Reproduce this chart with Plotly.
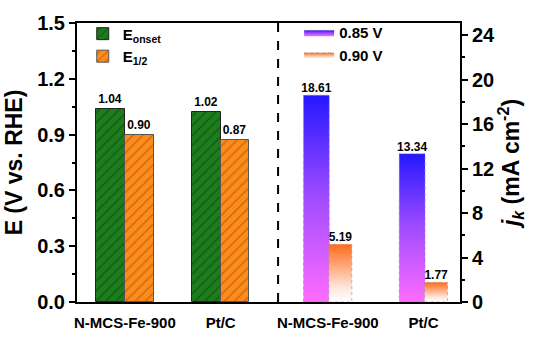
import plotly.graph_objects as go

# ---- data ----
groups = ["N-MCS-Fe-900", "Pt/C"]
e_onset = [1.04, 1.02]
e_half = [0.90, 0.87]
jk_085 = [18.61, 13.34]
jk_090 = [5.19, 1.77]

left_pos = [0.5, 1.5]
right_pos = [2.5, 3.5]
tick_pos = [0.5, 1.5, 2.62, 3.62]
tick_txt = groups + groups

FONT = "Liberation Sans, Arial, sans-serif"

fig = go.Figure()

lbl_font = dict(size=12, color="black", family=FONT, weight="bold")

# left patterned bars
fig.add_trace(go.Bar(
    x=[p - 0.15 for p in left_pos], y=e_onset, width=0.3,
    name="E<sub>onset</sub>", legend="legend",
    marker=dict(color="#1a7a1a", line=dict(color="#222", width=1),
                pattern=dict(shape="/", fgcolor="#0a300a", bgcolor="#1c7d1c", size=7, solidity=0.18)),
    text=[f"{v:.2f}" for v in e_onset], textposition="outside",
    textfont=lbl_font, cliponaxis=False, hoverinfo="skip",
))
fig.add_trace(go.Bar(
    x=[p + 0.15 for p in left_pos], y=e_half, width=0.3,
    name="E<sub>1/2</sub>", legend="legend",
    marker=dict(color="#ff8c1a", line=dict(color="#555", width=1),
                pattern=dict(shape="/", fgcolor="#7a4010", bgcolor="#ff8c1a", size=7, solidity=0.18)),
    text=[f"{v:.2f}" for v in e_half], textposition="outside",
    textfont=lbl_font, cliponaxis=False, hoverinfo="skip",
))

# right gradient bars (jk)
def grad_bar(c, w, v, cs, name, show):
    return go.Scatter(
        x=[c - w / 2, c + w / 2, c + w / 2, c - w / 2, c - w / 2],
        y=[0, 0, v, v, 0], yaxis="y2", mode="lines", fill="toself",
        fillgradient=dict(type="vertical", colorscale=cs),
        line=dict(color="rgba(150,150,150,0.8)", width=0.8, dash="dot"),
        name=name, legend="legend2", showlegend=show, legendgroup=name,
        hoverinfo="skip",
    )

purple_cs = [[0, "#ff6cff"], [0.5, "#a24cff"], [1, "#2418ff"]]
orange_cs = [[0, "#ffffff"], [0.25, "#fde6dc"], [1, "#ff6a18"]]
for i, c in enumerate(right_pos):
    fig.add_trace(grad_bar(c, 0.27, jk_085[i], purple_cs, "0.85 V", i == 0))
for i, c in enumerate(right_pos):
    fig.add_trace(grad_bar(c + 0.25, 0.24, jk_090[i], orange_cs, "0.90 V", i == 0))

fig.add_trace(go.Scatter(
    x=right_pos + [c + 0.25 for c in right_pos], y=jk_085 + jk_090, yaxis="y2",
    mode="text", text=[f"{v:.2f}" for v in jk_085 + jk_090], textposition="top center",
    textfont=lbl_font, showlegend=False, hoverinfo="skip", cliponaxis=False,
))

fig.add_shape(type="line", xref="x", yref="paper", x0=2.1, x1=2.1, y0=0, y1=1,
              line=dict(color="black", width=2, dash="dash"))

tick_font = dict(size=20, color="black", family=FONT, weight="bold")
title_font = dict(size=23, color="black", family=FONT, weight="bold")
leg_font = dict(size=15, color="black", family=FONT, weight="bold")
fig.update_layout(
    width=541, height=345,
    margin=dict(l=77, r=81, t=19, b=43),
    plot_bgcolor="white", paper_bgcolor="white",
    font=dict(family=FONT, color="black"),
    bargap=0,
    xaxis=dict(range=[0, 4], tickvals=tick_pos, ticktext=tick_txt, ticks="",
               tickfont=dict(size=15, color="black", family=FONT, weight="bold"),
               ticklabelstandoff=6,
               showline=True, linecolor="black", linewidth=2, mirror=True,
               showgrid=False, zeroline=False),
    yaxis=dict(range=[0, 1.5], dtick=0.3, tickformat=".1f", ticks="outside", ticklen=6,
               tickwidth=2, tickcolor="black",
               minor=dict(dtick=0.15, ticks="outside", ticklen=3, tickwidth=1.5, tickcolor="black"),
               tickfont=tick_font, showline=True, linecolor="black", linewidth=2,
               showgrid=False, zeroline=False,
               title=dict(text="E (V vs. RHE)", font=title_font, standoff=8)),
    yaxis2=dict(range=[0, 25.1], overlaying="y", side="right", dtick=4, ticks="outside",
                ticklen=6, tickwidth=2, tickcolor="black",
                minor=dict(dtick=2, ticks="outside", ticklen=3, tickwidth=1.5, tickcolor="black"),
                tickfont=tick_font, showline=True, linecolor="black", linewidth=2,
                showgrid=False, zeroline=False,
                title=dict(text="<i>j<sub>k</sub></i> (mA cm<sup>-2</sup>)", font=title_font, standoff=8)),
    legend=dict(x=0.015, y=1.02, xanchor="left", yanchor="top", bgcolor="rgba(0,0,0,0)",
                font=leg_font, tracegroupgap=4, itemwidth=30),
    legend2=dict(x=0.58, y=1.025, xanchor="left", yanchor="top", bgcolor="rgba(0,0,0,0)",
                 font=leg_font, tracegroupgap=0, itemwidth=30),
)

fig.write_html("out.html")
